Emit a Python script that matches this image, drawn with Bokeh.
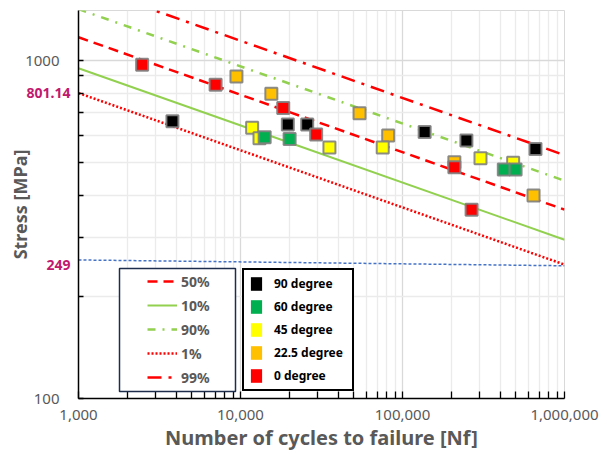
from bokeh.plotting import figure
from bokeh.models import FixedTicker, Legend, LegendItem, BoxAnnotation, Range1d, LogAxis
from bokeh.embed import file_html
from bokeh.resources import INLINE

# ---------------- data ----------------
deg_labels = ["90 degree", "60 degree", "45 degree", "22.5 degree", "0 degree"]
deg_colors = ["#000000", "#00b050", "#ffff00", "#ffc000", "#ff0000"]

n90 = [3800, 19600, 25800, 137000, 248000, 662000]
s90 = [661, 647, 647, 614, 580, 547]
n60 = [14100, 20100, 422000, 499000]
s60 = [593, 586, 476, 476]
n45 = [11800, 13100, 35400, 75500, 303000, 482000]
s45 = [632, 589, 553, 553, 514, 498]
n225 = [9440, 15500, 54300, 81600, 209000, 644000]
s225 = [897, 797, 698, 600, 500, 399]
n0 = [2470, 7020, 18350, 29300, 209000, 267000]
s0 = [971, 848, 724, 604, 483, 362]

curve_labels = ["50%", "10%", "90%", "1%", "99%"]
curve_n = [1000, 1000000]
s_50 = [1172, 362]
s_10 = [949, 295]
s_90 = [1419, 441]
s_01 = [801.14, 249]
s_99 = [1689, 525]
limit_s = [257, 247]

x_ticks = [1000, 10000, 100000, 1000000]
x_tick_labels = ["1,000", "10,000", "100,000", "1,000,000"]
y_ticks = [100, 1000]
y_tick_labels = ["100", "1000"]
marked_values = [249, 801.14]
marked_labels = ["249", "801.14"]

# ---------------- figure ----------------
GRAY = "#595959"
FONT = "Noto Sans"

p = figure(width=607, height=458, x_axis_type="log", y_axis_type="log",
           x_range=Range1d(1000, 1000000), y_range=Range1d(100, 1406),
           output_backend="svg", toolbar_location=None, title=None,
           min_border_left=78, min_border_right=43, min_border_top=10, min_border_bottom=60)
p.outline_line_color = "#d9d9d9"
p.background_fill_color = "white"

x_minor = [k * 10 ** e for e in (3, 4, 5) for k in range(2, 10)]
y_minor = [k * 100 for k in range(1, 11)]

# x axis
xa = p.xaxis[0]
xa.ticker = FixedTicker(ticks=x_ticks, minor_ticks=x_minor)
xa.major_label_overrides = {t: l for t, l in zip(x_ticks, x_tick_labels)}
xa.major_tick_in = 7
xa.minor_tick_in = 7
xa.major_label_standoff = 11
xa.axis_label = "Number of cycles to failure [Nf]"
xa.axis_label_standoff = 1
xa.axis_label_text_font_size = "20px"

# inner y axis: frame line, ticks and the two marked values
ya = p.yaxis[0]
ya.ticker = FixedTicker(ticks=marked_values, minor_ticks=y_minor)
ya.major_label_overrides = {t: l for t, l in zip(marked_values, marked_labels)}
ya.major_tick_in = 0
ya.minor_tick_in = 5
ya.major_label_standoff = 8
ya.major_label_text_color = "#c2186d"
ya.major_label_text_font_style = "bold"
ya.major_label_text_font_size = "14px"

# outer y axis: regular decade labels + title
yb = LogAxis(ticker=FixedTicker(ticks=y_ticks, minor_ticks=[]),
             major_label_overrides={t: l for t, l in zip(y_ticks, y_tick_labels)})
yb.axis_line_alpha = 0
yb.major_tick_in = 0
yb.major_tick_out = 0
yb.minor_tick_in = 0
yb.minor_tick_out = 0
yb.major_label_standoff = -36
yb.axis_label = "Stress [MPa]"
yb.axis_label_standoff = -10
yb.axis_label_text_font_size = "18px"
p.add_layout(yb, "left")

for ax in (xa, ya, yb):
    ax.axis_line_color = "black"
    ax.axis_line_width = 1.5
    ax.major_tick_line_color = "black"
    ax.minor_tick_line_color = "black"
    ax.major_tick_line_width = 1.3
    ax.minor_tick_line_width = 1.3
    ax.major_tick_out = 0
    ax.minor_tick_out = 0
    ax.major_label_text_font = FONT
    ax.axis_label_text_font = FONT
    ax.axis_label_text_font_style = "bold"
    ax.axis_label_text_color = GRAY
for ax in (xa, yb):
    ax.major_label_text_font_size = "15px"
    ax.major_label_text_color = GRAY

p.xgrid[0].ticker = FixedTicker(ticks=x_ticks, minor_ticks=x_minor)
p.ygrid[0].ticker = FixedTicker(ticks=y_ticks, minor_ticks=[k * 100 for k in range(2, 10)])
for g in (p.xgrid[0], p.ygrid[0]):
    g.grid_line_color = "#d9d9d9"
    g.grid_line_width = 1.3
    g.minor_grid_line_color = "#ebebeb"
    g.minor_grid_line_width = 1.3

# ---------------- lines ----------------
p.line(curve_n, limit_s, line_color="#4472c4", line_width=1.5, line_dash="3 2")
r50 = p.line(curve_n, s_50, line_color="#ff0000", line_width=2.5, line_dash="10 6")
r10 = p.line(curve_n, s_10, line_color="#92d050", line_width=2)
r90 = p.line(curve_n, s_90, line_color="#92d050", line_width=2.5, line_dash="8 7 2 7")
r01 = p.line(curve_n, s_01, line_color="#ff0000", line_width=2.5, line_dash="2 2")
r99 = p.line(curve_n, s_99, line_color="#ff0000", line_width=2.5, line_dash="14 7 3 7")

# ---------------- points ----------------
series = {
    "90 degree": (n90, s90),
    "60 degree": (n60, s60),
    "45 degree": (n45, s45),
    "22.5 degree": (n225, s225),
    "0 degree": (n0, s0),
}
color_of = dict(zip(deg_labels, deg_colors))

# plain squares (hidden under the markers) that give the legend its swatches
proxies = {}
for name in deg_labels:
    nn, ss = series[name]
    proxies[name] = p.rect(nn, ss, width=8, height=8, width_units="screen",
                           height_units="screen", fill_color=color_of[name], line_alpha=0)

for name in ["22.5 degree", "45 degree", "60 degree", "90 degree", "0 degree"]:
    nn, ss = series[name]
    p.scatter(nn, ss, marker="square", size=12, fill_color=color_of[name],
              line_color="#7f7f7f", line_width=2, line_alpha=0.9)

# ---------------- legends ----------------
box = BoxAnnotation(left=41, right=157, bottom=7, top=130,
                    left_units="screen", right_units="screen",
                    top_units="screen", bottom_units="screen",
                    fill_color="white", fill_alpha=1.0,
                    line_color="#1f2d4d", line_width=1.5, line_alpha=1.0)
p.add_layout(box)

leg1 = Legend(items=[LegendItem(label=l, renderers=[r]) for l, r in
                     zip(curve_labels, [r50, r10, r90, r01, r99])],
              location=(65, 7), orientation="vertical",
              glyph_width=30, glyph_height=20, label_height=20, spacing=4,
              padding=4, label_standoff=4, margin=0,
              border_line_alpha=0, background_fill_alpha=0,
              label_text_font=FONT, label_text_font_size="14px",
              label_text_font_style="bold", label_text_color=GRAY)
p.add_layout(leg1, "center")

leg2 = Legend(items=[LegendItem(label=l, renderers=[proxies[l]]) for l in deg_labels],
              location=(164, 7), orientation="vertical",
              glyph_width=14, glyph_height=17, label_height=17, spacing=6,
              padding=5, label_standoff=11, margin=0, label_width=73,
              border_line_color="black", border_line_width=2, border_line_alpha=1.0,
              background_fill_color="white", background_fill_alpha=1.0,
              label_text_font=FONT, label_text_font_size="12px",
              label_text_font_style="bold", label_text_color="black")
p.add_layout(leg2, "center")

open("out.html", "w").write(file_html(p, INLINE))
